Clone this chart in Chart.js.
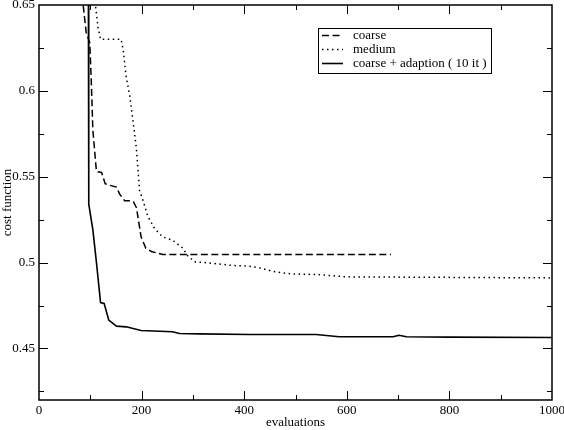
<!DOCTYPE html>
<html>
<head>
<meta charset="utf-8">
<script src="https://cdn.jsdelivr.net/npm/chart.js@4/dist/chart.umd.min.js"></script>
<style>
  html, body { margin: 0; padding: 0; background: #fff; }
  #wrap { width: 564px; height: 430px; position: relative; }
</style>
</head>
<body>
<div id="wrap"><canvas id="c"></canvas></div>
<script>
// values
const coarseX = [75, 92, 99, 102, 105, 112, 122, 129, 138, 151, 157, 167, 177, 184, 190, 199, 208, 219, 241, 686];
const coarseY = [0.68, 0.634, 0.628, 0.605, 0.577, 0.553, 0.5525, 0.546, 0.545, 0.544, 0.540, 0.536, 0.536, 0.5355, 0.532, 0.515, 0.5085, 0.5065, 0.5047, 0.5047];

const mediumX = [104, 110, 115, 120, 160, 164, 170, 177, 186, 190, 196, 203, 212, 225, 241, 261, 280, 290, 303, 332, 378, 411, 430, 456, 475, 495, 547, 599, 1000];
const mediumY = [0.675, 0.65, 0.637, 0.630, 0.630, 0.624, 0.608, 0.597, 0.576, 0.566, 0.542, 0.536, 0.527, 0.520, 0.515, 0.513, 0.5085, 0.504, 0.5005, 0.4998, 0.4983, 0.4979, 0.4969, 0.4949, 0.494, 0.4934, 0.493, 0.4917, 0.4911];

const adaptX = [96, 97, 105, 112, 120, 127, 136, 151, 170, 199, 260, 274, 313, 411, 540, 585, 690, 702, 716, 800, 1000];
const adaptY = [0.70, 0.534, 0.519, 0.50, 0.4767, 0.4762, 0.4665, 0.463, 0.4626, 0.4605, 0.4597, 0.4587, 0.4585, 0.4581, 0.4581, 0.4568, 0.4568, 0.4577, 0.4568, 0.4566, 0.4564];

const seriesNames = ['coarse', 'medium', 'coarse + adaption ( 10 it )'];

const xMajor = [0, 200, 400, 600, 800, 1000];
const xMinor = [100, 300, 500, 700, 900];
const yMajor = [0.45, 0.5, 0.55, 0.6, 0.65];
const yMinor = [0.425, 0.475, 0.525, 0.575, 0.625];

const FONT = 'Liberation Serif';

function pts(xs, ys) {
  return xs.map((x, i) => ({x: x, y: ys[i]}));
}

// xmgrace style frame: box with inward ticks on every side
const frameTicks = {
  id: 'frameTicks',
  afterDatasetsDraw(chart) {
    const {ctx, chartArea: a, scales: {x, y}} = chart;
    ctx.save();
    ctx.strokeStyle = '#000';
    ctx.lineWidth = 1.5;
    ctx.strokeRect(a.left, a.top, a.right - a.left, a.bottom - a.top);
    ctx.lineWidth = 1;
    const tick = (vals, len) => {
      vals.forEach(v => {
        const px = Math.round(x.getPixelForValue(v)) + 0.5;
        ctx.beginPath();
        ctx.moveTo(px, a.bottom); ctx.lineTo(px, a.bottom - len);
        ctx.moveTo(px, a.top); ctx.lineTo(px, a.top + len);
        ctx.stroke();
      });
    };
    const ytick = (vals, len) => {
      vals.forEach(v => {
        const py = Math.round(y.getPixelForValue(v)) + 0.5;
        ctx.beginPath();
        ctx.moveTo(a.left, py); ctx.lineTo(a.left + len, py);
        ctx.moveTo(a.right, py); ctx.lineTo(a.right - len, py);
        ctx.stroke();
      });
    };
    tick(xMajor.slice(1, -1), 9);
    tick(xMinor, 5);
    ytick(yMajor.slice(0, -1), 9);
    ytick(yMinor, 5);
    ctx.restore();
  }
};

// boxed legend in the upper right of the plot
const boxLegend = {
  id: 'boxLegend',
  afterDraw(chart) {
    const {ctx} = chart;
    const left = 318, top = 28, w = 173, h = 45;
    ctx.save();
    ctx.fillStyle = '#fff';
    ctx.fillRect(left, top, w, h);
    ctx.strokeStyle = '#000';
    ctx.lineWidth = 1;
    ctx.strokeRect(left + 0.5, top + 0.5, w, h);
    ctx.font = '13px "' + FONT + '"';
    ctx.textBaseline = 'middle';
    ctx.fillStyle = '#000';
    chart.data.datasets.forEach((ds, i) => {
      const yy = top + 7.5 + i * 14;
      ctx.beginPath();
      ctx.setLineDash(ds.borderDash || []);
      ctx.lineWidth = ds.borderWidth;
      ctx.moveTo(322, yy);
      ctx.lineTo(343, yy);
      ctx.stroke();
      ctx.setLineDash([]);
      ctx.fillText(ds.label, 353, yy);
    });
    ctx.restore();
  }
};

new Chart(document.getElementById('c'), {
  type: 'line',
  data: {
    datasets: [
      {label: seriesNames[0], data: pts(coarseX, coarseY), borderColor: '#000', borderWidth: 1.5, borderDash: [7, 3.5]},
      {label: seriesNames[1], data: pts(mediumX, mediumY), borderColor: '#000', borderWidth: 1.5, borderDash: [1.5, 3.5]},
      {label: seriesNames[2], data: pts(adaptX, adaptY), borderColor: '#000', borderWidth: 1.6}
    ]
  },
  options: {
    responsive: true,
    maintainAspectRatio: false,
    animation: false,
    parsing: false,
    elements: {point: {radius: 0}, line: {tension: 0, fill: false}},
    layout: {padding: {left: 0, top: 5, right: 12, bottom: 0}},
    plugins: {legend: {display: false}, tooltip: {enabled: false}},
    scales: {
      x: {
        type: 'linear', min: 0, max: 1000,
        grid: {display: false, drawTicks: false},
        border: {display: false},
        afterBuildTicks: s => { s.ticks = xMajor.map(v => ({value: v})); },
        afterFit: s => { s.height = 30; s.paddingLeft = 0; s.paddingRight = 0; },
        ticks: {color: '#000', padding: 3, maxRotation: 0, font: {family: FONT, size: 13}, callback: v => String(v)},
        title: {display: true, text: 'evaluations', color: '#000', padding: 0, font: {family: FONT, size: 13}}
      },
      y: {
        type: 'linear', min: 0.42, max: 0.65,
        grid: {display: false, drawTicks: false},
        border: {display: false},
        afterBuildTicks: s => { s.ticks = yMajor.map(v => ({value: v})); },
        afterFit: s => { s.width = 39; s.paddingTop = 0; s.paddingBottom = 0; },
        ticks: {color: '#000', padding: 4, font: {family: FONT, size: 13}, callback: v => String(v)},
        title: {display: true, text: 'cost function', color: '#000', padding: 0, font: {family: FONT, size: 13}}
      }
    }
  },
  plugins: [frameTicks, boxLegend]
});
</script>
</body>
</html>
